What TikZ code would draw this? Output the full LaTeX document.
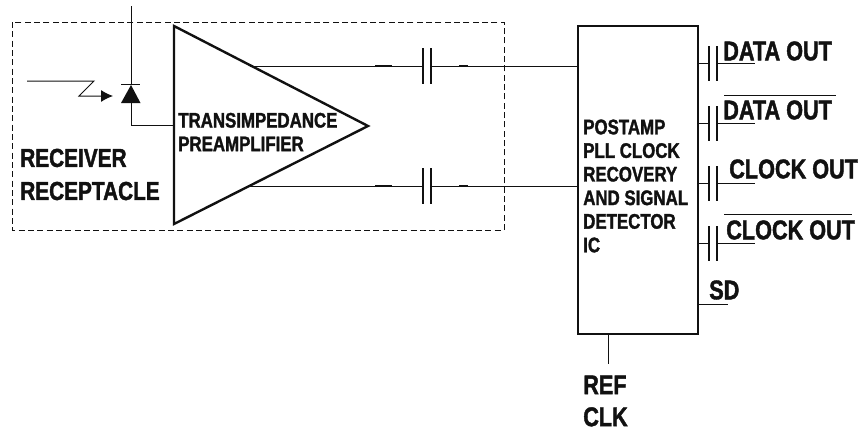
\documentclass[tikz,border=0pt]{standalone}
\usepackage{fontspec}
\setmainfont{Liberation Sans}[FakeStretch=0.8,BoldFeatures={FakeBold=1.5}]
\usetikzlibrary{calc,arrows.meta}
\definecolor{ink}{HTML}{111111}
\tikzset{
  thin wire/.style={draw=ink, line width=0.75pt},
  thick wire/.style={draw=ink, line width=1.8pt, line join=miter},
  frame/.style={draw=ink, line width=0.7pt, dash pattern=on 4.5pt off 2.5pt},
  plate/.style={draw=ink, line width=0.9pt},
  lab/.style={text=ink, anchor=west, inner sep=0pt, align=left},
  labs/.style={lab, font=\fontsize{15.8}{17.7}\selectfont\bfseries},
  labm/.style={lab, font=\fontsize{20.3}{24}\selectfont\bfseries},
  labb/.style={lab, font=\fontsize{19.5}{24.8}\selectfont\bfseries},
  chip/.style={thick wire, rectangle, inner sep=0pt, minimum width=90pt, minimum height=231pt},
}
\begin{document}
\begin{tikzpicture}[x=0.75pt,y=-0.75pt]
  \useasboundingbox (0,0) rectangle (862,432);

  % Receptacle outline
  \draw[frame] (12,22) rectangle (504,230);
  \node[labb] (rcv) at (20,174.5) {RECEIVER\\RECEPTACLE};

  % Preamp triangle
  \coordinate (ampa) at (174,26);
  \coordinate (ampb) at (174,224);
  \coordinate (ampc) at (368,126);
  \draw[thick wire] (ampa) -- (ampc) -- (ampb) -- cycle;
  \node[labs] (amplab) at (178,132) {TRANSIMPEDANCE\\PREAMPLIFIER};

  % Photodiode
  \coordinate (dtop) at (131,6);
  \coordinate (dbar) at (131,85);
  \coordinate (dbase) at (131,103);
  \coordinate (dturn) at (131,125);
  \coordinate (ampin) at (174,125);
  \draw[thin wire] (dtop) -- (dbar);
  \draw[thin wire] (121,84.5) -- (140,84.5);
  \fill[ink] (dbar) -- (140.5,103) -- (121,103) -- cycle;
  \draw[thin wire] (dbase) -- (dturn) -- (ampin);

  % Light arrow
  \coordinate (lighta) at (27,81);
  \coordinate (lightb) at (94,81);
  \coordinate (lightc) at (79,96);
  \coordinate (lightd) at (113,96);
  \draw[thin wire,-{Latex[length=9pt,width=9pt]}] (lighta) -- (lightb) -- (lightc) -- (lightd);

  % Post amp block
  \node[chip] (postamp) at (638,180) {};
  \node[labs] (postlab) at (583,186) {POSTAMP\\PLL CLOCK\\RECOVERY\\AND SIGNAL\\DETECTOR\\IC};

  % Coupling caps between the blocks
  \foreach \y/\n in {66/capa,186/capb}{
    \coordinate (\n l) at (423,\y);
    \coordinate (\n r) at (431,\y);
    \coordinate (\n s) at (250,\y);
    \coordinate (\n e) at (578,\y);
    \draw[thin wire] (\n s) -- (\n l);
    \draw[thin wire] (\n r) -- (\n e);
    \draw[plate] (423,\y-18) -- (423,\y+18);
    \draw[plate] (431,\y-18) -- (431,\y+18);
    \draw[draw=ink, line width=1.1pt] (375,\y) -- (392,\y);
    \draw[draw=ink, line width=1.1pt] (459,\y) -- (468,\y);
  }

  % Output caps
  \foreach \y in {63,123,183,243}{
    \draw[thin wire] (698,\y) -- (709,\y);
    \draw[thin wire] (717,\y) -- (755,\y);
    \draw[plate] (709,\y-17) -- (709,\y+18);
    \draw[plate] (717,\y-17) -- (717,\y+18);
  }

  % Output labels
  \node[labm] (dout) at (723,51) {DATA OUT};
  \node[labm] (doutn) at (723,110) {DATA OUT};
  \node[labm] (cout) at (729,169) {CLOCK OUT};
  \node[labm] (coutn) at (726,230) {CLOCK OUT};
  \draw[thin wire] (724,95) -- (836,95);
  \draw[thin wire] (724,214) -- (852,214);

  % Signal detect and reference clock
  \node[labm] (sd) at (709,290) {SD};
  \draw[thin wire] (698,304) -- (728,304);
  \draw[thin wire] (608,334) -- (608,364);
  \node[labm] (ref) at (583,401) {REF\\CLK};
\end{tikzpicture}
\end{document}
